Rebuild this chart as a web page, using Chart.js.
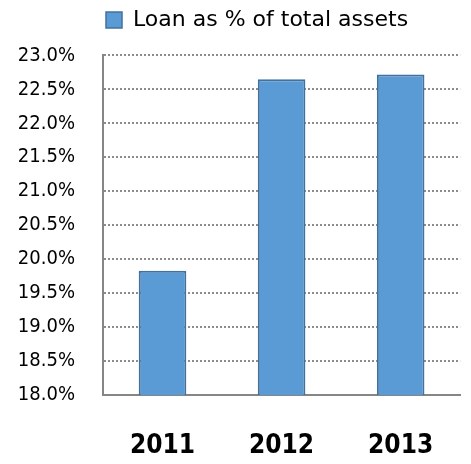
<!DOCTYPE html>
<html>
<head>
<meta charset="utf-8">
<script src="https://cdn.jsdelivr.net/npm/chart.js@4/dist/chart.umd.min.js"></script>
<style>
  html, body { margin: 0; padding: 0; background: #fff; overflow: hidden; }
  canvas { display: block; }
</style>
</head>
<body>
<canvas id="grafica" width="471" height="464"></canvas>
<script>
// anos y porcentaje de prestamos sobre activos totales
const years = ['2011', '2012', '2013'];
const loanPct = [19.83, 22.65, 22.72];
const yTicks = [18.0, 18.5, 19.0, 19.5, 20.0, 20.5, 21.0, 21.5, 22.0, 22.5, 23.0];

const fuente = "'DejaVu Sans Condensed', 'DejaVu Sans', sans-serif";

const ctx = document.getElementById('grafica').getContext('2d');
new Chart(ctx, {
    type: 'bar',
    data: {
        labels: years,
        datasets: [{
            label: 'Loan as % of total assets',
            data: loanPct,
            backgroundColor: '#5B9BD5',
            borderColor: '#41719C',
            borderWidth: { top: 2, left: 2, right: 2, bottom: 0 },
            borderSkipped: 'bottom',
            categoryPercentage: 1,
            barPercentage: 0.4
        }]
    },
    options: {
        responsive: false,
        animation: false,
        layout: { padding: { left: 0, right: 0, top: 6, bottom: 0 } },
        scales: {
            x: {
                grid: { display: false, drawTicks: false },
                border: { color: '#868686', width: 2 },
                afterFit: axis => { axis.height = 69; },
                ticks: {
                    color: '#000',
                    padding: 36,
                    font: { family: fuente, size: 26, weight: 'bold' }
                }
            },
            y: {
                min: yTicks[0],
                max: yTicks[yTicks.length - 1],
                afterBuildTicks: axis => { axis.ticks = yTicks.map(v => ({ value: v })); },
                afterFit: axis => { axis.width = 103; },
                grid: { color: '#8c8c8c', lineWidth: 2, drawTicks: false },
                border: { color: '#868686', width: 2, dash: [2, 2] },
                ticks: {
                    color: '#000',
                    padding: 28,
                    font: { family: fuente, size: 20 },
                    callback: v => v.toFixed(1) + '%'
                }
            }
        },
        plugins: {
            legend: {
                display: true,
                position: 'top',
                fullSize: false,
                align: 'start',
                labels: {
                    color: '#000',
                    boxWidth: 16,
                    boxHeight: 16,
                    padding: 3,
                    font: { family: "'DejaVu Sans', sans-serif", size: 22 }
                }
            },
            // titulo vacio: solo deja espacio entre la leyenda y la grafica
            title: {
                display: true,
                text: '',
                weight: 500,
                padding: 0,
                font: { size: 12, lineHeight: 1.2 }
            },
            tooltip: { enabled: false }
        }
    }
});
</script>
</body>
</html>
